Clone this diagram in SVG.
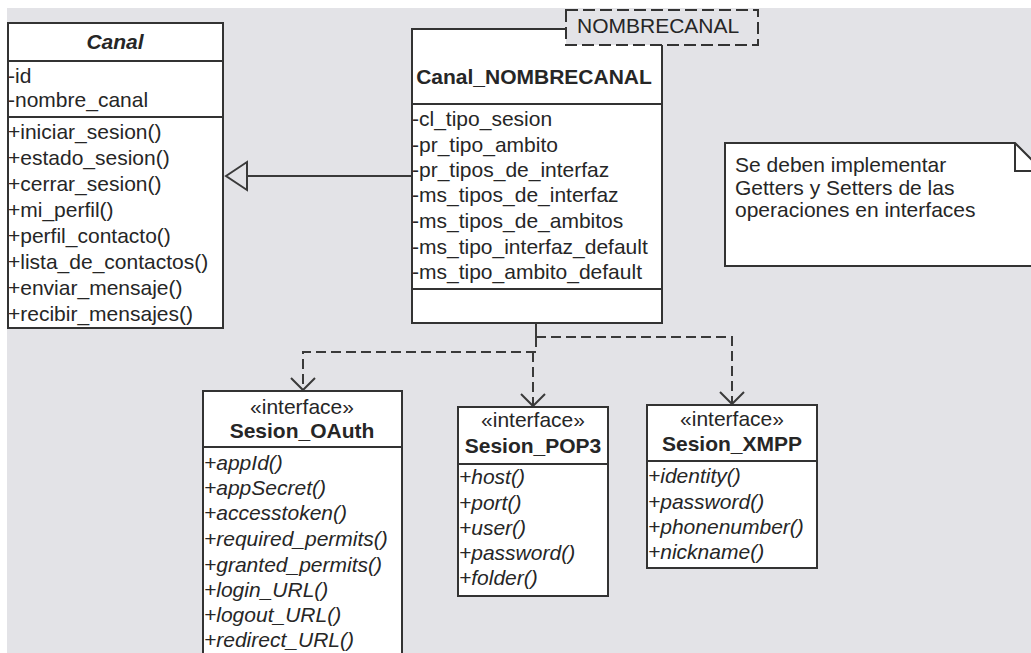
<svg xmlns="http://www.w3.org/2000/svg" width="1031" height="653" viewBox="0 0 1031 653">
  <defs>
    <style>
      .box { fill: #ffffff; stroke: #333333; stroke-width: 2; }
      .sep { stroke: #333333; stroke-width: 2; fill: none; }
      .t { font-family: "Liberation Sans", Arial, sans-serif; font-size: 21px; fill: #262626; }
      .b { font-weight: bold; }
      .i { font-style: italic; }
      .c { text-anchor: middle; }
      .dep { stroke: #3a3a3a; stroke-width: 2; fill: none; stroke-dasharray: 10 5; }
      .solid { stroke: #3a3a3a; stroke-width: 2; fill: none; }
    </style>
    <marker id="open" markerWidth="28" markerHeight="28" refX="14" refY="14" orient="auto" markerUnits="userSpaceOnUse">
      <path d="M2,2 L14,14 L2,26" fill="none" stroke="#3a3a3a" stroke-width="2"/>
    </marker>
  </defs>

  <!-- page background -->
  <rect x="0" y="0" width="1031" height="653" fill="#ffffff"/>
  <rect x="7" y="8" width="1024" height="645" fill="#e3e3e7"/>

  <!-- connectors -->
  <g id="connectors">
    <!-- generalization: Canal_NOMBRECANAL -> Canal -->
    <line class="solid" x1="411" y1="176" x2="247" y2="176"/>
    <polygon points="226,176 247,162 247,190" fill="#e3e3e7" stroke="#3a3a3a" stroke-width="2"/>
    <!-- dependencies to the interfaces -->
    <line class="solid" x1="536" y1="323" x2="536" y2="337"/>
    <path class="dep" d="M536,337 H732 V404" marker-end="url(#open)"/>
    <path class="dep" d="M536,337 V352 H303 V390" marker-end="url(#open)"/>
    <path class="dep" d="M533,352 V406" marker-end="url(#open)"/>
  </g>

  <!-- abstract class Canal -->
  <g id="canal">
    <rect class="box" x="8" y="23" width="215" height="305"/>
    <line class="sep" x1="8" y1="61" x2="223" y2="61"/>
    <line class="sep" x1="8" y1="117" x2="223" y2="117"/>
    <text class="t b i c" x="115" y="49">Canal</text>
    <text class="t" x="8" y="83">-id</text>
    <text class="t" x="8" y="107">-nombre_canal</text>
    <text class="t" x="8" y="139">+iniciar_sesion()</text>
    <text class="t" x="8" y="165">+estado_sesion()</text>
    <text class="t" x="8" y="191">+cerrar_sesion()</text>
    <text class="t" x="8" y="217">+mi_perfil()</text>
    <text class="t" x="8" y="243">+perfil_contacto()</text>
    <text class="t" x="8" y="269">+lista_de_contactos()</text>
    <text class="t" x="8" y="295">+enviar_mensaje()</text>
    <text class="t" x="8" y="321">+recibir_mensajes()</text>
  </g>

  <!-- template class Canal_NOMBRECANAL -->
  <g id="canal-nombrecanal">
    <rect class="box" x="412" y="29" width="250" height="294"/>
    <line class="sep" x1="412" y1="104" x2="662" y2="104"/>
    <line class="sep" x1="412" y1="289" x2="662" y2="289"/>
    <text class="t b c" x="534" y="84">Canal_NOMBRECANAL</text>
    <text class="t" x="412" y="126">-cl_tipo_sesion</text>
    <text class="t" x="412" y="152">-pr_tipo_ambito</text>
    <text class="t" x="412" y="177">-pr_tipos_de_interfaz</text>
    <text class="t" x="412" y="202">-ms_tipos_de_interfaz</text>
    <text class="t" x="412" y="228">-ms_tipos_de_ambitos</text>
    <text class="t" x="412" y="254">-ms_tipo_interfaz_default</text>
    <text class="t" x="412" y="279">-ms_tipo_ambito_default</text>
    <!-- template parameter -->
    <rect x="566" y="10" width="192" height="35" fill="#e3e3e7" stroke="#333333" stroke-width="2" stroke-dasharray="12 5"/>
    <text class="t" x="577" y="33">NOMBRECANAL</text>
  </g>

  <!-- note -->
  <g id="note">
    <path d="M725,143 H1015 L1043,171 V266 H725 Z" fill="#ffffff" stroke="#333333" stroke-width="2"/>
    <path d="M1015,143 V171 H1043" fill="none" stroke="#333333" stroke-width="2"/>
    <text class="t" x="735" y="172">Se deben implementar</text>
    <text class="t" x="735" y="195">Getters y Setters de las</text>
    <text class="t" x="735" y="217">operaciones en interfaces</text>
  </g>

  <!-- interface Sesion_OAuth -->
  <g id="sesion-oauth">
    <rect class="box" x="203" y="391" width="199" height="280"/>
    <line class="sep" x1="203" y1="447" x2="402" y2="447"/>
    <text class="t c" x="302" y="414">«interface»</text>
    <text class="t b c" x="302" y="438">Sesion_OAuth</text>
    <text class="t i" x="204" y="470">+appId()</text>
    <text class="t i" x="204" y="495">+appSecret()</text>
    <text class="t i" x="204" y="520">+accesstoken()</text>
    <text class="t i" x="204" y="546">+required_permits()</text>
    <text class="t i" x="204" y="572">+granted_permits()</text>
    <text class="t i" x="204" y="597">+login_URL()</text>
    <text class="t i" x="204" y="622">+logout_URL()</text>
    <text class="t i" x="204" y="647">+redirect_URL()</text>
  </g>

  <!-- interface Sesion_POP3 -->
  <g id="sesion-pop3">
    <rect class="box" x="458" y="407" width="150" height="189"/>
    <line class="sep" x1="458" y1="464" x2="608" y2="464"/>
    <text class="t c" x="533" y="427">«interface»</text>
    <text class="t b c" x="533" y="453">Sesion_POP3</text>
    <text class="t i" x="459" y="484">+host()</text>
    <text class="t i" x="459" y="510">+port()</text>
    <text class="t i" x="459" y="535">+user()</text>
    <text class="t i" x="459" y="560">+password()</text>
    <text class="t i" x="459" y="585">+folder()</text>
  </g>

  <!-- interface Sesion_XMPP -->
  <g id="sesion-xmpp">
    <rect class="box" x="647" y="405" width="170" height="163"/>
    <line class="sep" x1="647" y1="461" x2="817" y2="461"/>
    <text class="t c" x="732" y="426">«interface»</text>
    <text class="t b c" x="732" y="451">Sesion_XMPP</text>
    <text class="t i" x="648" y="483">+identity()</text>
    <text class="t i" x="648" y="509">+password()</text>
    <text class="t i" x="648" y="534">+phonenumber()</text>
    <text class="t i" x="648" y="559">+nickname()</text>
  </g>
</svg>
